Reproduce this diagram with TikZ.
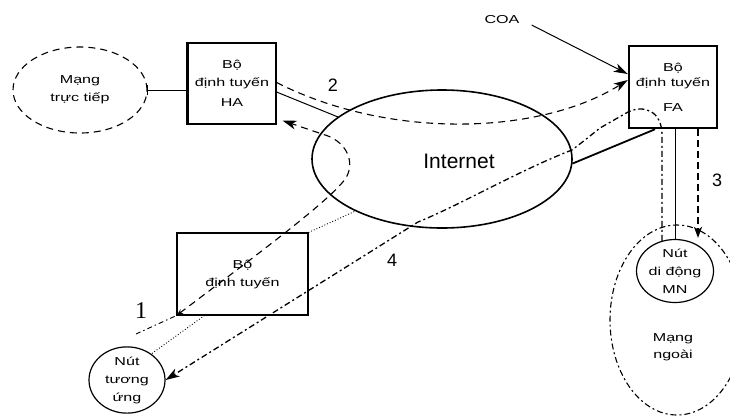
\documentclass[tikz,border=0pt]{standalone}
\usepackage{fontspec}
\setmainfont{Liberation Sans}
\newfontfamily\vn[FakeStretch=1.4]{Liberation Sans}
\newfontfamily\numserif{Liberation Serif}
\usetikzlibrary{shapes.geometric,arrows.meta}
\begin{document}
\begin{tikzpicture}[x=1pt,y=-1pt,
  txt/.style={font=\vn\fontsize{11.5}{18}\selectfont, align=center, inner sep=0pt},
  box/.style={draw, line width=1.1pt, rectangle, inner sep=0pt},
  oval/.style={draw, ellipse, inner sep=0pt},
  num/.style={font=\fontsize{18}{18}\selectfont, inner sep=0pt},
  arr/.style={-{Stealth[length=14pt,width=9pt,inset=4pt]}},
  p1/.style={line width=0.9pt, dash pattern=on 5pt off 3pt on 1.5pt off 3pt},
  p2/.style={line width=1.1pt, dash pattern=on 7pt off 5pt},
  p3/.style={line width=2.4pt, dash pattern=on 7pt off 4pt},
  p4/.style={line width=1.3pt, dash pattern=on 6pt off 3pt on 2pt off 3pt},
  dotline/.style={line width=0.9pt, dotted}
]
\useasboundingbox (0,0) rectangle (730,416);
\fill[white] (0,0) rectangle (730,416);
\clip (0,0) rectangle (730,416);

% nodes
\node[oval, txt, line width=1.1pt, dash pattern=on 7pt off 5pt, minimum width=134pt, minimum height=86pt] (lan) at (80,90) {Mạng\\trực tiếp};
\node[box, txt, minimum width=88pt, minimum height=81pt] (ha) at (232,83.5) {Bộ\\định tuyến\\[2pt]HA};
\node[box, txt, line width=2.5pt, minimum width=88pt, minimum height=82pt] (fa) at (673,87) {Bộ\\[-3pt]định tuyến\\[7pt]FA};
\node[oval, line width=1.6pt, minimum width=260pt, minimum height=138pt] (inet) at (442,159) {};
\node[font=\fontsize{21}{21}\selectfont, inner sep=0pt] (inettxt) at (459,161) {Internet};
\node[box, txt, minimum width=131pt, minimum height=82pt] (router) at (242.5,274) {Bộ\\định tuyến};
\node[oval, txt, line width=1.2pt, minimum width=76pt, minimum height=64pt] (cn) at (127,380) {Nút\\tương\\ứng};
\node[oval, line width=1.1pt, dash pattern=on 6pt off 3pt on 2pt off 3pt, minimum width=134pt, minimum height=190pt] (foreign) at (677,320) {};
\node[txt, font=\vn\fontsize{11.5}{17}\selectfont] (ftxt) at (673,347) {Mạng\\ngoài};
\node[oval, txt, line width=1.2pt, minimum width=77pt, minimum height=63pt] (mn) at (675,271) {Nút\\di động\\MN};
\node[txt] (coa) at (502,20) {COA};

% labels
\node[font=\numserif\fontsize{24}{24}\selectfont, inner sep=0pt] (l1) at (141,311) {1};
\node[num] (l2) at (333,85) {2};
\node[num] (l3) at (717,180) {3};
\node[num] (l4) at (392,260) {4};

% physical links
\draw[line width=2.2pt] (ha.north west) -- (ha.south west);
\draw[line width=1pt] ([yshift=-5pt]lan.east) -- ([yshift=5pt]lan.east);
\draw[line width=1pt] (lan.east) -- (lan.east -| ha.west);
\draw[line width=1pt] ([yshift=-8.5pt]ha.east) -- (inet.158);
\draw[line width=1.8pt] (inet.-2) -- ([xshift=-18pt]fa.south);
\draw[dotline] (router.north east) -- (inet.211);
\draw[dotline] ([xshift=28pt]router.south west) -- (cn.47);
\draw[line width=1pt] (fa.south -| mn.north) -- (mn.north);

% COA
\draw[line width=1pt, arr] ([shift={(12pt,-5pt)}]coa.east) -- ([yshift=13pt]fa.west);

% path 1
\coordinate (p1s) at (136,334);
\draw[p1] (p1s) -- (router.south west);
\draw[p2, {Stealth[length=7pt,width=5pt]}-{Stealth[length=14pt,width=9pt,inset=4pt]}]
  (router.south west) .. controls (270,245) and (330,200) .. (346,178)
  .. controls (356,160) and (345,140) .. (322,134) -- ([shift={(6pt,4pt)}]ha.south east);

% path 2
\draw[p2, arr] ([yshift=1pt]ha.east) .. controls (390,140) and (540,135) .. ([yshift=7pt]fa.west);

% path 3
\draw[p3, -{Stealth[length=11pt,width=8pt,inset=3pt]}] ([xshift=25pt]fa.south) -- ([xshift=23pt,yshift=1pt]mn.north);

% path 4
\draw[p4, arr] ([xshift=-13pt,yshift=-2pt]mn.north) -- (662,135)
  .. controls (662,112) and (645,104) .. (628,112) -- (600,128)
  .. controls (585,140) .. (572,150)
  .. controls (520,170) and (460,205) .. (418,222) -- (cn.east);
\end{tikzpicture}
\end{document}
